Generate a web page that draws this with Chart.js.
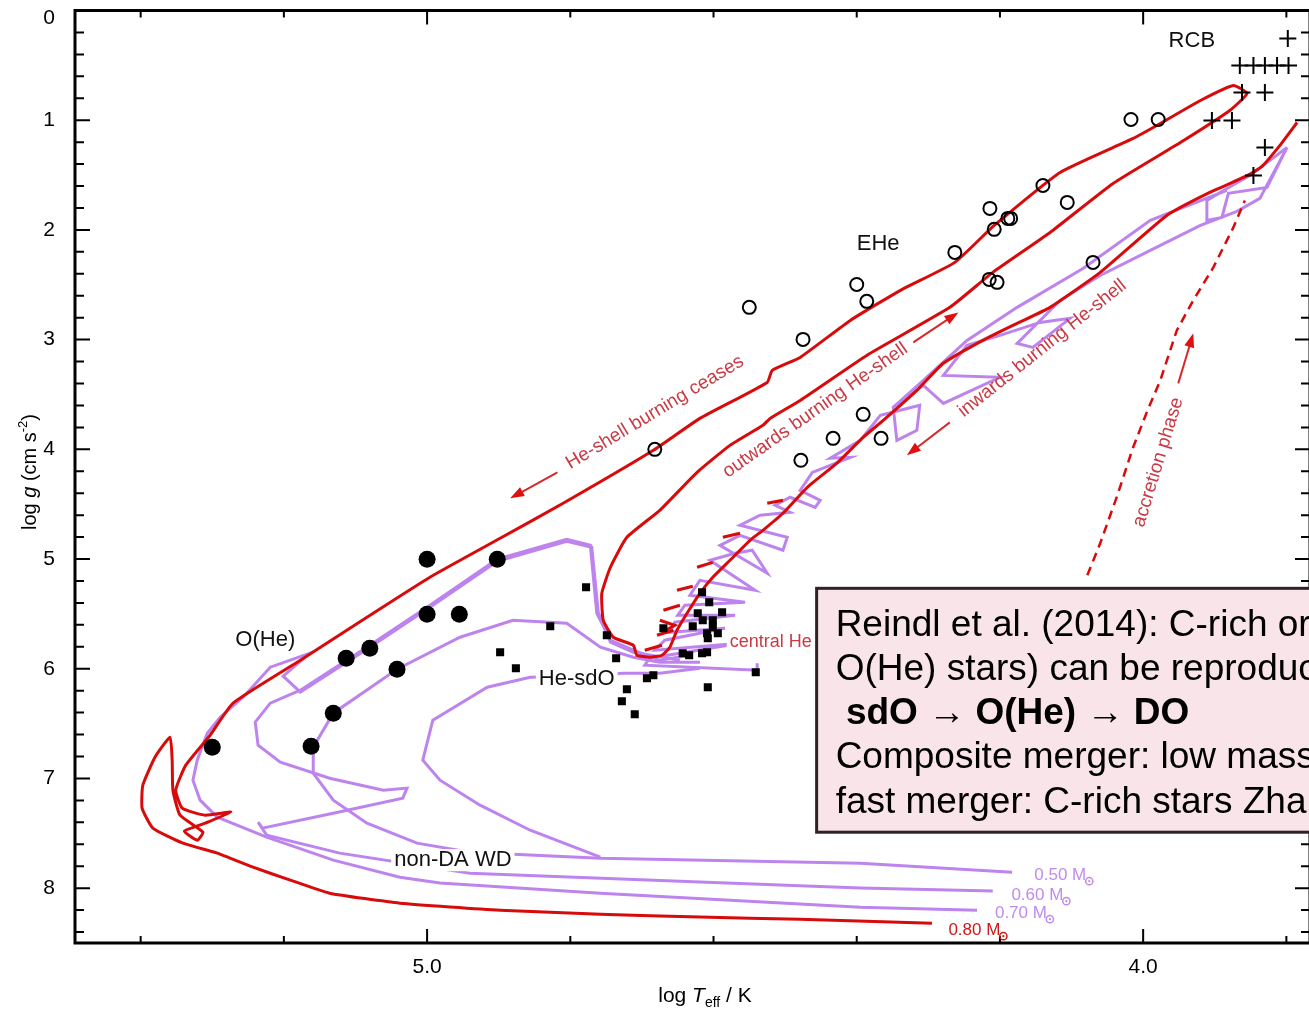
<!DOCTYPE html>
<html>
<head>
<meta charset="utf-8">
<script src="https://cdn.jsdelivr.net/npm/chart.js@4.4.1/dist/chart.umd.min.js"></script>
<style>
  html, body { margin: 0; padding: 0; background: #fff; overflow: hidden; }
  #wrap { width: 1330px; height: 1009px; }
</style>
</head>
<body>
<div id="wrap"><canvas id="hrd" width="1330" height="1009"></canvas></div>
<script>
// log Teff / log g diagram: merger evolution tracks and observed He-rich stars

// observed stars [logTeff, log g]
const rcbStars = [[3.798,0.255],[3.865,0.501],[3.846,0.501],[3.830,0.501],[3.813,0.501],[3.797,0.501],
  [3.862,0.747],[3.830,0.747],[3.904,1.002],[3.876,1.002],[3.830,1.248],[3.846,1.503]];
const eheStars = [[4.017,0.993],[3.979,0.993],[4.140,1.595],[4.106,1.749],[4.214,1.804],[4.189,1.895],
  [4.185,1.895],[4.208,1.995],[4.263,2.205],[4.215,2.451],[4.204,2.478],[4.070,2.296],[4.550,2.706],
  [4.475,2.998],[4.400,2.497],[4.386,2.651],[4.391,3.681],[4.433,3.900],[4.478,4.100],[4.366,3.900],
  [4.682,4.000]];
const oheStars = [[5.000,5.002],[4.902,5.002],[5.000,5.503],[4.955,5.503],[5.080,5.813],[5.113,5.904],
  [5.042,6.005],[5.131,6.405],[5.162,6.706],[5.300,6.715]];
const hesdoStars = [[4.778,5.257],[4.828,5.613],[4.898,5.850],[4.876,5.995],[4.749,5.695],[4.736,5.904],
  [4.670,5.631],[4.616,5.303],[4.606,5.394],[4.588,5.485],[4.622,5.494],[4.629,5.613],[4.601,5.622],
  [4.609,5.676],[4.594,5.676],[4.615,5.558],[4.601,5.558],[4.608,5.722],[4.643,5.859],[4.634,5.877],
  [4.616,5.859],[4.609,5.850],[4.541,6.032],[4.608,6.169],[4.693,6.087],[4.684,6.059],[4.721,6.187],
  [4.728,6.296],[4.710,6.415]];

// 0.80 Msun track: inwards shell burning, core He burning, outwards shell, shell off, WD cooling
const track080 = [[3.785,1.021],[3.809,1.230],[3.834,1.421],[3.854,1.503],[3.907,1.658],[3.967,1.868],
  [4.060,2.387],[4.130,2.706],[4.176,2.852],[4.224,3.007],[4.279,3.216],[4.316,3.462],[4.363,3.736],
  [4.391,3.891],[4.428,4.128],[4.469,4.346],[4.503,4.583],[4.531,4.738],[4.549,4.829],[4.577,5.011],
  [4.601,5.166],[4.619,5.312],[4.637,5.494],[4.651,5.649],[4.661,5.804],[4.672,5.877],[4.689,5.895],
  [4.707,5.877],
  [4.712,5.786],[4.740,5.713],[4.754,5.558],[4.756,5.312],[4.744,5.075],[4.721,4.802],[4.675,4.556],
  [4.623,4.210],[4.577,3.964],[4.531,3.781],[4.521,3.718],[4.479,3.554],[4.386,3.144],[4.270,2.706],
  [4.210,2.387],[4.130,2.023],[4.042,1.576],[3.948,1.203],[3.879,0.911],[3.855,0.756],
  [3.874,0.683],[3.920,0.820],[3.981,1.048],[4.014,1.166],[4.116,1.476],[4.208,1.959],[4.263,2.296],
  [4.339,2.551],[4.409,2.825],[4.479,3.162],[4.518,3.280],[4.525,3.390],[4.619,3.718],[4.684,4.009],
  [4.810,4.492],[4.898,4.811],[4.996,5.166],[5.084,5.531],[5.177,5.923],[5.271,6.314],
  [5.303,6.606],[5.337,6.879],[5.351,7.107],[5.342,7.271],[5.310,7.335],[5.274,7.307],[5.310,7.408],
  [5.339,7.481],[5.321,7.563],[5.313,7.490],[5.345,7.335],[5.355,7.107],[5.356,6.834],[5.359,6.624],
  [5.380,6.806],[5.397,7.062],[5.398,7.271],[5.383,7.453],[5.341,7.590],[5.293,7.681],[5.243,7.809],
  [5.191,7.927],[5.136,8.046],[5.038,8.137],[4.898,8.201],[4.758,8.237],[4.619,8.264],[4.479,8.283],
  [4.295,8.319]];
// short He-flash excursions of the 0.80 Msun model
const flashDashes = [
  [[4.525,4.492],[4.503,4.465]], [[4.587,4.802],[4.563,4.765]], [[4.623,5.075],[4.601,5.030]],
  [[4.651,5.285],[4.629,5.248]], [[4.670,5.467],[4.647,5.421]], [[4.679,5.695],[4.656,5.649]],
  [[4.696,5.831],[4.672,5.786]], [[4.675,5.558],[4.654,5.604],[4.672,5.667]]];
const accretionPath = [[4.078,5.148],[4.060,4.857],[4.036,4.419],[4.014,3.982],[3.995,3.663],[3.976,3.371],
  [3.953,2.916],[3.930,2.642],[3.902,2.342],[3.874,1.977],[3.858,1.731]];

// low-mass tracks (0.50 / 0.60 / 0.70 Msun)
const shellLoops = [[3.799,1.248],[3.851,1.503],[3.883,1.622],[3.911,1.731],[3.911,1.913],[3.890,1.886],
  [3.881,1.667],[3.827,1.613],[3.799,1.248],[3.837,1.713],[3.869,1.831],[3.920,1.959],[3.990,2.187],
  [4.060,2.415],[4.116,2.642],[4.176,3.034],[4.154,3.071],[4.102,2.806],[4.144,2.843],[4.200,2.961],
  [4.246,3.052],[4.279,3.326],[4.200,3.344],[4.279,3.581],[4.307,3.417],[4.349,3.617],[4.344,3.918],
  [4.316,3.827],[4.312,3.599],[4.367,3.690],[4.395,3.918],[4.437,4.082],[4.409,4.073],[4.462,4.210],
  [4.479,4.374],[4.451,4.465],[4.458,4.529],[4.493,4.437],[4.514,4.510],[4.493,4.574],[4.535,4.601],
  [4.563,4.692],[4.497,4.802],[4.503,4.920],[4.563,4.784],[4.591,4.875],[4.525,5.130],[4.546,4.920],
  [4.570,4.948],[4.605,5.011],[4.542,5.285],[4.619,5.194],[4.633,5.330],[4.556,5.394],[4.640,5.421],
  [4.650,5.513],[4.570,5.513],[4.654,5.576],[4.661,5.667],[4.584,5.631],[4.668,5.740],[4.682,5.831],
  [4.563,5.768],[4.689,5.904],[4.696,5.968],[4.539,6.014],[4.539,5.950]];
const shellEdge = [[3.883,1.640],[3.990,1.913],[4.084,2.351],[4.176,2.706],[4.246,3.007],[4.307,3.371],
  [4.349,3.617]];
const track050 = [[4.619,5.941],[4.675,5.941],[4.712,5.895],[4.758,5.804],[4.805,5.585],[4.880,5.558],
  [4.954,5.713],[5.042,6.005],[5.131,6.405],[5.159,6.715],[5.159,6.952],[5.131,7.198],[5.084,7.408],
  [5.014,7.590],[4.940,7.672],[4.758,7.727],[4.395,7.772],[4.183,7.854]];
const track060 = [[4.633,5.877],[4.675,5.923],[4.712,5.831],[4.744,5.740],[4.763,5.494],[4.772,4.875],
  [4.805,4.820],[4.902,5.002],[4.996,5.422],[5.080,5.786],[5.177,6.196],[5.219,6.314],[5.240,6.487],
  [5.236,6.697],[5.205,6.852],[5.136,6.998],[5.061,7.107],[5.028,7.088],[5.034,7.180],[5.131,7.317],
  [5.230,7.453],[5.236,7.399],[5.224,7.517],[5.122,7.681],[4.940,7.864],[4.619,7.945],[4.395,7.999],
  [4.210,8.027]];
const track070 = [[4.647,5.923],[4.712,5.850],[4.744,5.758],[4.761,5.485],[4.770,4.893],[4.805,4.838],
  [4.902,5.020],[4.996,5.440],[5.080,5.804],[5.177,6.214],[5.201,6.068],[5.164,5.859],[5.219,5.986],
  [5.257,6.260],[5.289,6.442],[5.307,6.588],[5.321,6.834],[5.327,7.016],[5.317,7.198],[5.293,7.353],
  [5.224,7.535],[5.131,7.745],[5.038,7.900],[4.982,7.954],[4.758,8.046],[4.395,8.173],[4.232,8.201]];
const sdoBranch = [[4.619,5.995],[4.675,6.041],[4.726,6.041],[4.791,6.068],[4.856,6.077],[4.916,6.169],
  [4.992,6.469],[5.006,6.834],[4.982,7.016],[4.926,7.244],[4.856,7.472],[4.758,7.718]];

const xTicks = [3.8, 4.0, 4.2, 4.4, 4.6, 4.8, 5.0, 5.2, 5.4];
const xTickLabels = { '4.0': '4.0', '5.0': '5.0' };
const yTickLabels = ['0', '1', '2', '3', '4', '5', '6', '7', '8'];
const massLabels = ['0.50', '0.60', '0.70', '0.80'];

const RED = '#d80a0a';
const PURPLE = '#bd84ee';
const NOTE = '#c93a44';
const SANS = '"Liberation Sans", Arial, Helvetica, sans-serif';

const pts = arr => arr.map(([x, y]) => ({ x, y }));
const curve = (arr, color, extra = {}) => ({
  data: pts(arr), showLine: true, borderColor: color, borderWidth: 3,
  pointRadius: 0, tension: 0, fill: false, ...extra,
});

const overlay = {
  id: 'overlay',
  afterDatasetsDraw(chart) {
    const { ctx, chartArea: a, scales: { x, y } } = chart;
    const px = v => x.getPixelForValue(v);
    const py = v => y.getPixelForValue(v);

    ctx.save();
    // frame and inward ticks
    ctx.strokeStyle = '#000';
    ctx.lineWidth = 3;
    ctx.strokeRect(a.left, a.top, a.right - a.left, a.bottom - a.top);
    ctx.lineWidth = 2;
    ctx.beginPath();
    xTicks.forEach(v => {
      const X = px(v);
      const len = xTickLabels[v.toFixed(1)] ? 14 : 7;
      ctx.moveTo(X, a.bottom); ctx.lineTo(X, a.bottom - len);
      ctx.moveTo(X, a.top); ctx.lineTo(X, a.top + len);
    });
    for (let i = 0; i <= 42; i++) {
      const Y = py(i / 5);
      const len = i % 5 === 0 ? 15 : 9;
      ctx.moveTo(a.left, Y); ctx.lineTo(a.left + len, Y);
      ctx.moveTo(a.right, Y); ctx.lineTo(a.right - len, Y);
    }
    ctx.stroke();

    ctx.fillStyle = '#000';
    ctx.font = `21px ${SANS}`;
    ctx.textAlign = 'center';
    ctx.textBaseline = 'middle';
    Object.keys(xTickLabels).forEach(k => ctx.fillText(xTickLabels[k], px(+k), a.bottom + 24));
    yTickLabels.forEach((s, i) => ctx.fillText(s, 49, Math.max(py(i), 18)));

    // x title: log Teff / K
    ctx.textAlign = 'left';
    ctx.textBaseline = 'alphabetic';
    const parts = [['log ', `21px ${SANS}`, 0], ['T', `italic 21px ${SANS}`, 0],
                   ['eff', `14px ${SANS}`, 5], [' / K', `21px ${SANS}`, 0]];
    let w = 0;
    parts.forEach(([s, f]) => { ctx.font = f; w += ctx.measureText(s).width; });
    let cx = 705 - w / 2;
    parts.forEach(([s, f, dy]) => { ctx.font = f; ctx.fillText(s, cx, 1002 + dy); cx += ctx.measureText(s).width; });

    // y title: log g (cm s-2)
    ctx.save();
    ctx.translate(36, 472);
    ctx.rotate(-Math.PI / 2);
    const yparts = [['log ', `20px ${SANS}`, 0], ['g', `italic 20px ${SANS}`, 0], [' (cm s', `20px ${SANS}`, 0],
                    ['-2', `13px ${SANS}`, -9], [')', `20px ${SANS}`, 0]];
    w = 0;
    yparts.forEach(([s, f]) => { ctx.font = f; w += ctx.measureText(s).width; });
    cx = -w / 2;
    yparts.forEach(([s, f, dy]) => { ctx.font = f; ctx.fillText(s, cx, dy); cx += ctx.measureText(s).width; });
    ctx.restore();

    // plain labels
    const label = (s, T, g, font, color, bg) => {
      ctx.font = font;
      ctx.textAlign = 'center';
      ctx.textBaseline = 'middle';
      const X = px(T), Y = py(g);
      if (bg) {
        const tw = ctx.measureText(s).width;
        ctx.fillStyle = '#fff';
        ctx.fillRect(X - tw / 2 - 3, Y - 11, tw + 6, 22);
      }
      ctx.fillStyle = color;
      ctx.fillText(s, X, Y);
    };
    label('RCB', 3.932, 0.282, `22px ${SANS}`, '#111');
    label('EHe', 4.370, 2.132, `22px ${SANS}`, '#111');
    label('O(He)', 5.226, 5.740, `22px ${SANS}`, '#111');
    label('He-sdO', 4.791, 6.096, `22px ${SANS}`, '#111', true);
    label('non-DA WD', 4.964, 7.745, `22px ${SANS}`, '#111', true);
    label('central He', 4.520, 5.759, `18px ${SANS}`, NOTE, true);

    // rotated path notes
    const rot = (s, T, g, deg) => {
      ctx.save();
      ctx.translate(px(T), py(g));
      ctx.rotate(deg * Math.PI / 180);
      ctx.font = `19px ${SANS}`;
      ctx.fillStyle = NOTE;
      ctx.textAlign = 'center';
      ctx.textBaseline = 'middle';
      ctx.fillText(s, 0, 0);
      ctx.restore();
    };
    rot('He-shell burning ceases', 4.682, 3.663, -31);
    rot('outwards burning He-shell', 4.458, 3.645, -35);
    rot('inwards burning He-shell', 4.141, 3.080, -38.5);
    rot('accretion phase', 3.979, 4.118, -73);

    const arrow = (t0, g0, t1, g1) => {
      const x0 = px(t0), y0 = py(g0), x1 = px(t1), y1 = py(g1);
      const ang = Math.atan2(y1 - y0, x1 - x0);
      ctx.strokeStyle = '#d42a2a';
      ctx.fillStyle = '#e01010';
      ctx.lineWidth = 2;
      ctx.beginPath();
      ctx.moveTo(x0, y0);
      ctx.lineTo(x1 - 10 * Math.cos(ang), y1 - 10 * Math.sin(ang));
      ctx.stroke();
      ctx.beginPath();
      ctx.moveTo(x1, y1);
      ctx.lineTo(x1 - 14 * Math.cos(ang) + 5 * Math.sin(ang), y1 - 14 * Math.sin(ang) - 5 * Math.cos(ang));
      ctx.lineTo(x1 - 14 * Math.cos(ang) - 5 * Math.sin(ang), y1 - 14 * Math.sin(ang) + 5 * Math.cos(ang));
      ctx.closePath();
      ctx.fill();
    };
    arrow(4.818, 4.210, 4.884, 4.447);
    arrow(4.321, 3.025, 4.258, 2.752);
    arrow(4.270, 3.754, 4.330, 4.055);
    arrow(3.951, 3.399, 3.930, 2.943);

    // mass labels at the ends of the cooling tracks
    const massPos = [[4.152, 7.882, '#c08cec'], [4.184, 8.064, '#c08cec'], [4.207, 8.228, '#c08cec'], [4.272, 8.383, '#d01818']];
    massLabels.forEach((m, i) => {
      const [T, g, col] = massPos[i];
      const X = px(T), Y = py(g);
      ctx.font = `17px ${SANS}`;
      ctx.fillStyle = col;
      ctx.strokeStyle = col;
      ctx.textAlign = 'left';
      ctx.textBaseline = 'middle';
      const s = m + ' M';
      ctx.fillText(s, X, Y);
      const ex = X + ctx.measureText(s).width + 3;
      ctx.lineWidth = 1.5;
      ctx.beginPath();
      ctx.arc(ex, Y + 6, 3.6, 0, Math.PI * 2);
      ctx.stroke();
      ctx.beginPath();
      ctx.arc(ex, Y + 6, 1.1, 0, Math.PI * 2);
      ctx.fill();
    });

    // summary box
    const bx = px(4.456), by = py(5.267), bb = py(7.490);
    ctx.fillStyle = '#f9e4ea';
    ctx.fillRect(bx, by, 560, bb - by);
    ctx.strokeStyle = '#2e2222';
    ctx.lineWidth = 3;
    ctx.strokeRect(bx, by, 560, bb - by);
    ctx.fillStyle = '#000';
    ctx.textAlign = 'left';
    ctx.textBaseline = 'middle';
    const lines = [['Reindl et al. (2014): C-rich or', false], ['O(He) stars) can be reproduc', false],
                   [' sdO \u2192 O(He) \u2192 DO', true], ['Composite merger: low mass', false],
                   ['fast merger: C-rich stars Zha', false]];
    lines.forEach(([s, bold], i) => {
      ctx.font = `${bold ? 'bold ' : ''}37px ${SANS}`;
      ctx.fillText(s, bx + 19, by + 37 + i * 44.3);
    });
    ctx.restore();
  },
};

new Chart(document.getElementById('hrd'), {
  type: 'scatter',
  data: {
    datasets: [
      { data: pts(rcbStars), pointStyle: 'cross', pointRadius: 8.5, borderColor: '#000', borderWidth: 2 },
      { data: pts(eheStars), pointStyle: 'circle', pointRadius: 6.5, borderColor: '#000', backgroundColor: 'rgba(0,0,0,0)', borderWidth: 2 },
      { data: pts(oheStars), pointStyle: 'circle', pointRadius: 8.5, borderColor: '#000', backgroundColor: '#000', borderWidth: 0 },
      { data: pts(hesdoStars), pointStyle: 'rect', pointRadius: 5.7, borderColor: '#000', backgroundColor: '#000', borderWidth: 0 },
      curve(accretionPath, RED, { borderDash: [9, 6], borderWidth: 2.5 }),
      ...flashDashes.map(d => curve(d, RED)),
      curve(track080, RED, { tension: 0.15 }),
      curve(shellEdge, PURPLE),
      curve(shellLoops, PURPLE),
      curve(sdoBranch, PURPLE),
      curve(track070, PURPLE),
      curve(track060, PURPLE),
      curve(track050, PURPLE),
    ],
  },
  options: {
    responsive: false,
    animation: false,
    devicePixelRatio: 1,
    events: [],
    layout: { padding: { left: 75, right: 20, top: 10, bottom: 66 } },
    plugins: { legend: { display: false }, tooltip: { enabled: false } },
    scales: {
      x: { type: 'linear', reverse: true, min: 3.767, max: 5.4917, display: false },
      y: { type: 'linear', reverse: true, min: 0, max: 8.5, display: false },
    },
  },
  plugins: [overlay],
});
</script>
</body>
</html>
